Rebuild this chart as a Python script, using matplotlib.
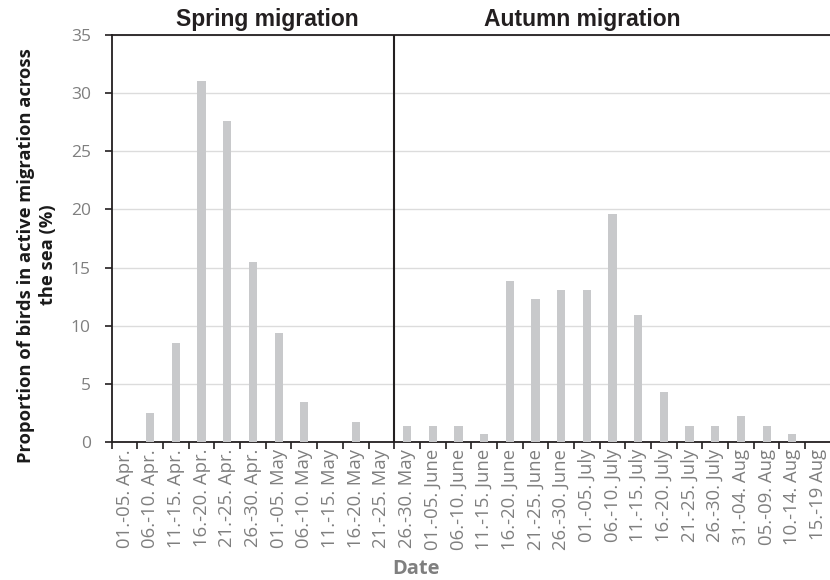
import matplotlib
matplotlib.use("Agg")
import matplotlib.pyplot as plt
import numpy as np

categories = ["01.-05. Apr.", "06.-10. Apr.", "11.-15. Apr.", "16.-20. Apr.", "21.-25. Apr.",
              "26.-30. Apr.", "01.-05. May", "06.-10. May", "11.-15. May", "16.-20. May",
              "21.-25. May", "26.-30. May", "01.-05. June", "06.-10. June", "11.-15. June",
              "16.-20. June", "21.-25. June", "26.-30. June", "01.-05. July", "06.-10. July",
              "11.-15. July", "16.-20. July", "21.-25. July", "26.-30. July", "31.-04. Aug",
              "05.-09. Aug", "10.-14. Aug", "15.-19 Aug"]
values = [0, 2.5, 8.5, 31.0, 27.6, 15.5, 9.4, 3.4, 0, 1.7,
          0, 1.4, 1.4, 1.4, 0.7, 13.8, 12.3, 13.1, 13.1, 19.6,
          10.9, 4.3, 1.4, 1.4, 2.2, 1.4, 0.7, 0]
season_titles = ["Spring migration", "Autumn migration"]
n_spring = 11

plt.rcParams['font.family'] = ['Open Sans', 'DejaVu Sans']

fig = plt.figure(figsize=(8.3, 5.8), dpi=100)
ax = fig.add_axes([0.1346, 0.238, 0.8664, 0.7017])

x = np.arange(len(categories))
ax.bar(x, values, width=0.32, color="#c8c9cb", zorder=3)

ax.set_xlim(-0.5, len(categories) - 0.5)
ax.set_ylim(0, 35)
ax.set_yticks(np.arange(0, 36, 5))
ax.yaxis.grid(True, color="#dcdcdc", linewidth=1.0, zorder=0)
ax.set_axisbelow(True)

# boundary ticks (major, unlabeled) and centered labels (minor)
ax.set_xticks(np.arange(-0.5, len(categories) + 0.5, 1.0))
ax.set_xticklabels([])
ax.set_xticks(x, minor=True)
ax.set_xticklabels(categories, minor=True, rotation=90, fontsize=13.3, color="#7f7f7f")
ax.tick_params(axis='x', which='major', direction='out', length=5, width=1.2, color="#231f20")
ax.tick_params(axis='x', which='minor', length=0, pad=5)
ax.tick_params(axis='y', length=5, width=1.2, color="#231f20", labelsize=12.5, labelcolor="#7f7f7f", pad=10)

for s in ['left', 'bottom', 'top']:
    ax.spines[s].set_color("#231f20")
    ax.spines[s].set_linewidth(1.3)
ax.spines['right'].set_visible(False)

ax.axvline(n_spring - 0.5, color="#231f20", linewidth=1.5, zorder=4)

ax.text(5.54, 35.3, season_titles[0], ha='center', va='bottom', fontsize=16.5,
        fontweight='bold', color="#231f20", family=['Liberation Sans', 'DejaVu Sans'])
ax.text(17.81, 35.3, season_titles[1], ha='center', va='bottom', fontsize=16.5,
        fontweight='bold', color="#231f20", family=['Liberation Sans', 'DejaVu Sans'])

ax.set_ylabel("Proportion of birds in active migration across\nthe sea (%)", fontsize=13.2,
              fontweight='bold', color="#1a1a1a", linespacing=1.35)
ax.yaxis.set_label_coords(-0.0755, 0.459)
ax.set_xlabel("Date", fontsize=14.5, fontweight='bold', color="#7f7f7f")
ax.xaxis.set_label_coords(0.4225, -0.288)

fig.savefig("out.png", dpi=100)
